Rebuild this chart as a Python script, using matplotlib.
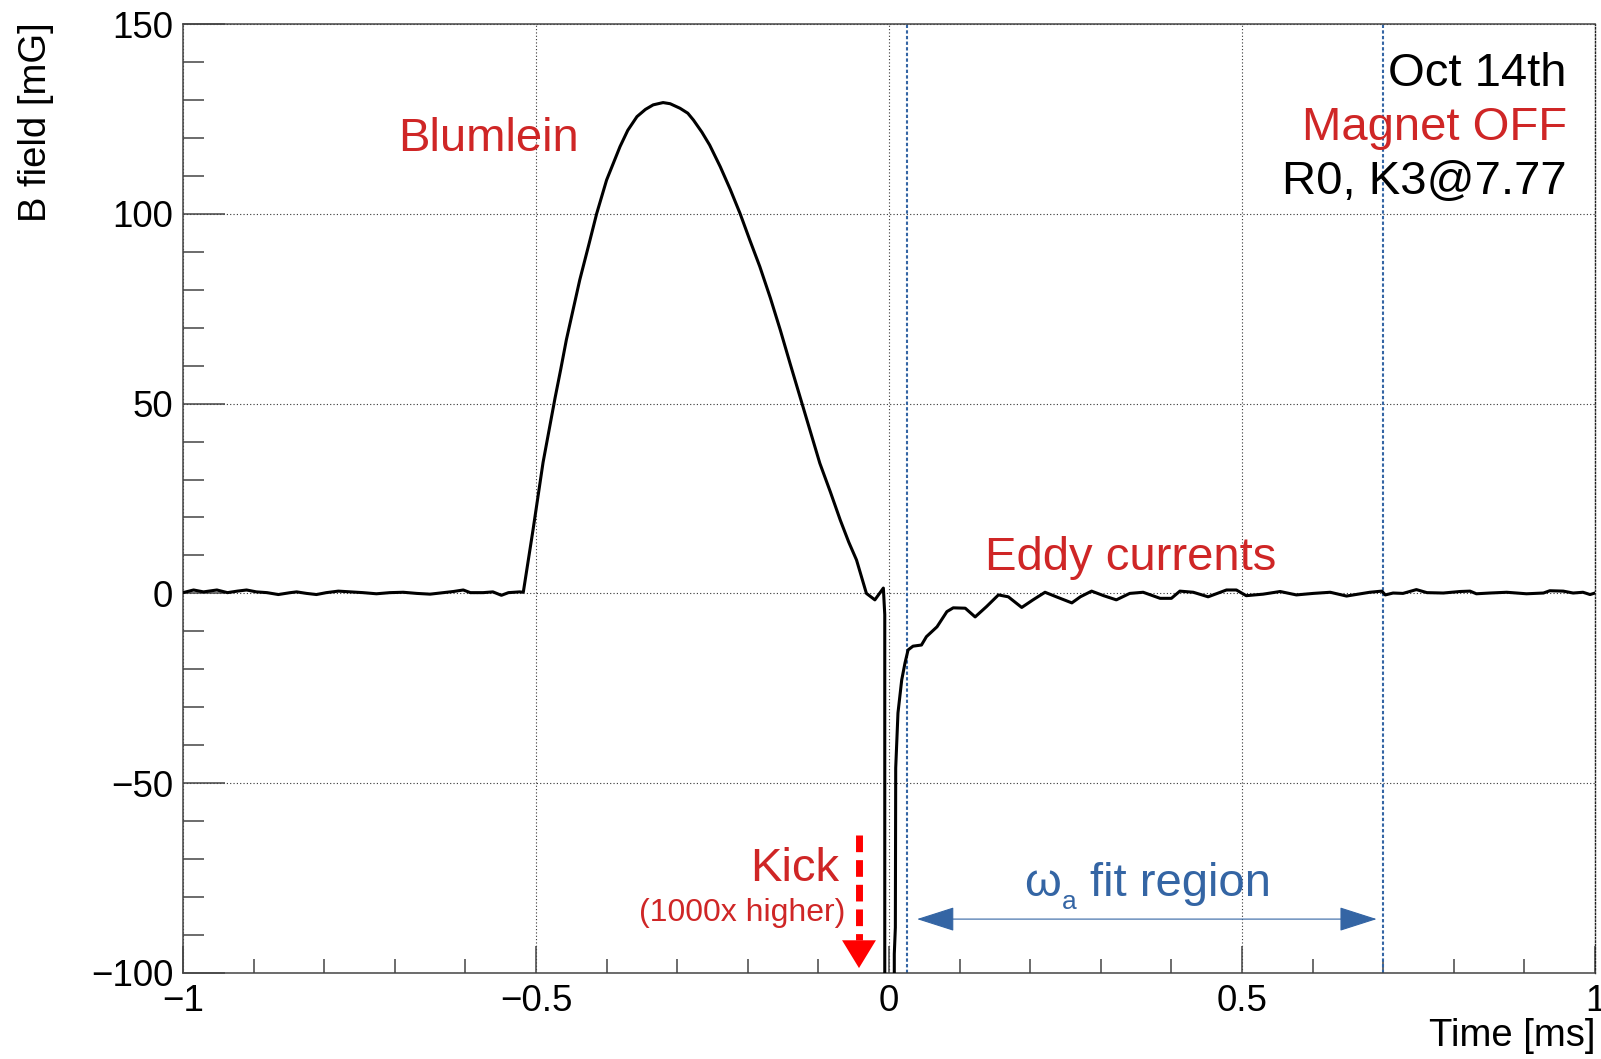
import numpy as np
import matplotlib.pyplot as plt
from matplotlib.ticker import MultipleLocator, FixedLocator, FixedFormatter

plt.rcParams['font.family'] = ['Liberation Sans', 'DejaVu Sans']

# baseline before the Blumlein pulse
t_pre = [-1.000, -0.985, -0.971, -0.952, -0.937, -0.923, -0.910, -0.896, -0.881, -0.865,
         -0.848, -0.839, -0.825, -0.811, -0.797, -0.780, -0.763, -0.745, -0.726, -0.707,
         -0.688, -0.669, -0.650, -0.631, -0.617, -0.603, -0.593, -0.575, -0.561, -0.549,
         -0.539, -0.523]
b_pre = [0.2, 0.9, 0.4, 0.9, 0.2, 0.6, 0.9, 0.4, 0.2, -0.3,
         0.2, 0.4, 0.0, -0.3, 0.2, 0.6, 0.4, 0.2, -0.1, 0.2,
         0.3, 0.0, -0.2, 0.2, 0.5, 0.9, 0.2, 0.2, 0.4, -0.5,
         0.2, 0.4]

# Blumlein pulse
t_blum = [-0.518, -0.504, -0.490, -0.473, -0.465, -0.457, -0.438, -0.425, -0.414, -0.400,
          -0.390, -0.381, -0.370, -0.357, -0.345, -0.334, -0.320, -0.310, -0.296, -0.285,
          -0.277, -0.265, -0.254, -0.239, -0.225, -0.211, -0.197, -0.183, -0.168, -0.154,
          -0.140, -0.126, -0.112, -0.098, -0.083, -0.069, -0.057, -0.046, -0.032, -0.020,
          -0.010, -0.008, -0.006]
b_blum = [0.3, 17.0, 34.5, 51.5, 59.0, 66.8, 82.6, 92.0, 100.1, 108.9,
          113.5, 117.7, 122.0, 125.6, 127.5, 128.7, 129.3, 129.0, 127.8, 126.5,
          124.7, 121.5, 118.1, 112.4, 106.5, 100.1, 93.0, 86.1, 77.8, 69.4,
          60.5, 51.8, 43.0, 34.3, 26.7, 19.3, 13.5, 8.8, 0.0, -1.7,
          0.9, 1.4, -5.6]

# kick (off scale) followed by the eddy-current recovery
t_kick = [-0.0055, 0.0070, 0.0075, 0.0090, 0.0095, 0.0127, 0.018, 0.0227, 0.027, 0.034,
          0.046, 0.053, 0.068, 0.082, 0.091, 0.108, 0.122, 0.138, 0.155, 0.169,
          0.188, 0.204, 0.221, 0.237, 0.259, 0.271, 0.287, 0.304, 0.322, 0.341,
          0.360, 0.384, 0.400, 0.412, 0.431, 0.452, 0.478, 0.492, 0.506, 0.530,
          0.554, 0.577, 0.601, 0.625, 0.648, 0.681, 0.698, 0.703, 0.714, 0.728,
          0.747, 0.762, 0.785, 0.809, 0.823, 0.832, 0.851, 0.875, 0.903, 0.927,
          0.936, 0.955, 0.969, 0.983, 0.993, 1.000]
b_kick = [-130000, -130000, -95, -88, -46, -31.5, -22.8, -18.3, -14.9, -13.9,
          -13.6, -11.4, -8.8, -4.8, -3.8, -3.9, -6.2, -3.5, -0.4, -0.9,
          -3.7, -1.7, 0.3, -0.9, -2.5, -0.9, 0.6, -0.6, -1.7, 0.0,
          0.3, -1.3, -1.3, 0.6, 0.3, -0.9, 0.9, 0.9, -0.6, -0.2,
          0.5, -0.4, 0.0, 0.3, -0.7, 0.3, 0.6, -0.4, 0.1, 0.0,
          1.0, 0.2, 0.1, 0.5, 0.6, -0.1, 0.1, 0.3, -0.1, 0.1,
          0.7, 0.6, 0.1, 0.3, -0.3, 0.1]

fit_start, fit_end = 0.025, 0.7
x_ticks = [-1, -0.5, 0, 0.5, 1]
x_tick_labels = ['\u22121', '\u22120.5', '0', '0.5', '1']
y_ticks = [-100, -50, 0, 50, 100, 150]
y_tick_labels = ['\u2212100', '\u221250', '0', '50', '100', '150']

red_txt = '#cf2626'
blue = '#3465a4'

t = np.array(t_pre + t_blum + t_kick)
b = np.array(b_pre + b_blum + b_kick)

W, H = 1601, 1059
fig = plt.figure(figsize=(W / 100, H / 100), dpi=100)
ax = fig.add_axes([183 / W, 1 - 973 / H, 1412 / W, 949 / H])

ax.set_xlim(-1, 1)
ax.set_ylim(-100, 150)

# ROOT-like axes
ax.xaxis.set_major_locator(FixedLocator(x_ticks))
ax.xaxis.set_major_formatter(FixedFormatter(x_tick_labels))
ax.xaxis.set_minor_locator(MultipleLocator(0.1))
ax.yaxis.set_major_locator(FixedLocator(y_ticks))
ax.yaxis.set_major_formatter(FixedFormatter(y_tick_labels))
ax.yaxis.set_minor_locator(MultipleLocator(10))
ax.tick_params(axis='x', which='major', direction='in', length=19.5, width=1.1,
               color='#444444', labelsize=26.5, pad=8)
ax.tick_params(axis='x', which='minor', direction='in', length=10, width=1.1, color='#444444')
ax.tick_params(axis='y', which='major', direction='in', length=30, width=1.1,
               color='#444444', labelsize=26.5, pad=7)
ax.tick_params(axis='y', which='minor', direction='in', length=15, width=1.1, color='#444444')
for side in ['left', 'bottom', 'top']:
    ax.spines[side].set_color('#444444')
    ax.spines[side].set_linewidth(1.1)
ax.spines['right'].set_color('#222222')
ax.spines['right'].set_linewidth(1.0)
ax.spines['right'].set_linestyle((0, (1, 1.5)))

ax.grid(True, which='major', color='#333333', linestyle=(0, (1, 2)), linewidth=0.8)
ax.set_axisbelow(True)

# fit window
for xv in [fit_start, fit_end]:
    ax.axvline(xv, color=blue, lw=1.5, linestyle=(0, (1.6, 1.1)), zorder=2)

ax.plot(t, b, color='black', lw=2.2, zorder=3)

fig.text(36 / W, 1 - 22 / H, 'B field [mG]', rotation=90, ha='center', va='top', fontsize=27.5)
fig.text(1595 / W, 1 - 1036 / H, 'Time [ms]', ha='right', va='center', fontsize=27.5)

# labels
ax.text(-0.695, 116.5, 'Blumlein', color=red_txt, fontsize=34, ha='left', va='baseline')
ax.text(0.136, 6.2, 'Eddy currents', color=red_txt, fontsize=34, ha='left', va='baseline')
ax.text(-0.0708, -75.8, 'Kick', color=red_txt, fontsize=34, ha='right', va='baseline')
ax.text(-0.0623, -86.3, '(1000x higher)', color=red_txt, fontsize=23, ha='right', va='baseline')

ax.text(0.960, 133.7, 'Oct 14th', color='black', fontsize=34, ha='right', va='baseline')
ax.text(0.960, 119.5, 'Magnet OFF', color=red_txt, fontsize=34, ha='right', va='baseline')
ax.text(0.960, 105.2, 'R0, K3@7.77', color='black', fontsize=34, ha='right', va='baseline')

ax.text(0.1912, -79.6, '\u03c9', color=blue, fontsize=34, ha='left', va='baseline')
ax.text(0.245, -83.1, 'a', color=blue, fontsize=19, ha='left', va='baseline')
ax.text(0.2854, -79.6, 'fit region', color=blue, fontsize=34, ha='left', va='baseline')

# kick arrow: dashed shaft plus solid head
kick_x = -0.0425
ax.plot([kick_x, kick_x], [-63.6, -91.3], color='#ff0000', lw=5,
        linestyle=(0, (2.4, 1.15)), solid_capstyle='butt', zorder=4)
ax.annotate('', xy=(kick_x, -98.7), xytext=(kick_x, -91.3),
            arrowprops=dict(arrowstyle='-|>,head_length=1.0,head_width=0.61',
                            mutation_scale=20, color='#ff0000', lw=0,
                            shrinkA=0, shrinkB=0), zorder=4)

# fit region double arrow
ax.annotate('', xy=(0.6908, -85.8), xytext=(0.0397, -85.8),
            arrowprops=dict(arrowstyle='<|-|>,head_length=1.22,head_width=0.39',
                            mutation_scale=20, color=blue, lw=0.8,
                            shrinkA=0, shrinkB=0), zorder=4)

fig.savefig('out.png', dpi=100)
